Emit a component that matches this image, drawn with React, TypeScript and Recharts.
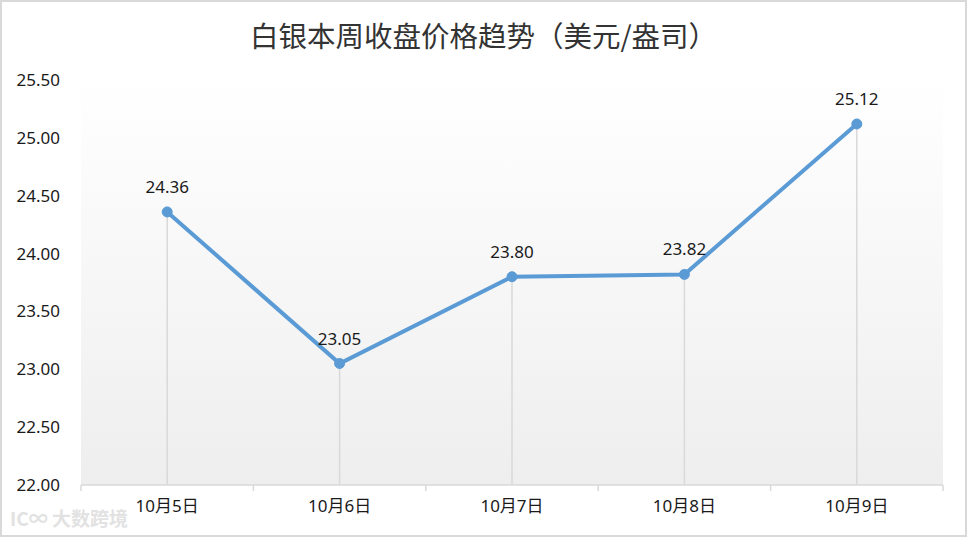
import React from "react"
import {
  CartesianGrid,
  LabelList,
  Line,
  LineChart,
  ReferenceLine,
  XAxis,
  YAxis,
} from "recharts"

const days = ["10月5日", "10月6日", "10月7日", "10月8日", "10月9日"]
const prices = [24.36, 23.05, 23.8, 23.82, 25.12]
const yTicks = [22, 22.5, 23, 23.5, 24, 24.5, 25, 25.5]

const data = days.map((day, i) => ({ day, price: prices[i] }))

const font = '"Noto Sans", "Noto Sans CJK SC", sans-serif'
const labelGap = 15

// category label plus tick marks at the band edges, like Excel
function DayTick(props: any) {
  const { x, y, payload, index, width } = props
  const half = width ? width / days.length / 2 : 0
  const axisY = y - labelGap
  return (
    <g>
      {half > 0 && (
        <line x1={x - half} x2={x - half} y1={axisY} y2={axisY + 6} stroke="#d9d9d9" strokeWidth={1.5} />
      )}
      {half > 0 && index === days.length - 1 && (
        <line x1={x + half} x2={x + half} y1={axisY} y2={axisY + 6} stroke="#d9d9d9" strokeWidth={1.5} />
      )}
      <text x={x} y={y} dy="0.71em" textAnchor="middle" fill="#1a1a1a" fontSize={17} fontFamily={font}>
        {payload.value}
      </text>
    </g>
  )
}

export default function App() {
  return (
    <div style={{ position: "absolute", left: 0, top: 0, width: 967, height: 537, background: "#fff", fontFamily: font }}>
      <LineChart
        width={967}
        height={537}
        data={data}
        margin={{ top: 80, right: 24, bottom: 0, left: 0 }}
      >
        <defs>
          <linearGradient id="plotBg" x1="0" y1="0" x2="0" y2="1">
            <stop offset="0%" stopColor="#ffffff" />
            <stop offset="100%" stopColor="#eeeeee" />
          </linearGradient>
        </defs>
        <CartesianGrid horizontal={false} vertical={false} fill="url(#plotBg)" />
        <XAxis
          dataKey="day"
          scale="band"
          height={52}
          axisLine={{ stroke: "#d9d9d9", strokeWidth: 1.5 }}
          tickLine={false}
          tickSize={0}
          tickMargin={labelGap}
          interval={0}
          tick={<DayTick />}
        />
        <YAxis
          domain={[22, 25.5]}
          ticks={yTicks}
          width={81}
          axisLine={false}
          tickLine={false}
          tickMargin={15}
          tickFormatter={(v: number) => v.toFixed(2)}
          tick={{ fill: "#1a1a1a", fontSize: 17, fontFamily: font }}
        />
        {data.map((d) => (
          <ReferenceLine
            key={d.day}
            segment={[
              { x: d.day, y: 22 },
              { x: d.day, y: d.price },
            ]}
            stroke="#d9d9d9"
            strokeWidth={1.5}
          />
        ))}
        <Line
          type="linear"
          dataKey="price"
          stroke="#5b9bd5"
          strokeWidth={4}
          dot={{ r: 5, fill: "#5b9bd5", stroke: "#5b9bd5", strokeWidth: 1 }}
          activeDot={false}
          isAnimationActive={false}
        >
          <LabelList
            dataKey="price"
            position="top"
            offset={19}
            formatter={(v: any) => Number(v).toFixed(2)}
            style={{ fill: "#1a1a1a", fontSize: 17, fontFamily: font }}
          />
        </Line>
      </LineChart>
      <div
        style={{
          position: "absolute",
          left: 0,
          top: 14,
          width: 967,
          textAlign: "center",
          fontSize: 28.5,
          color: "#333",
          fontFamily: '"Noto Sans CJK SC", sans-serif',
        }}
      >
        白银本周收盘价格趋势（美元/盎司）
      </div>
      <div
        style={{
          position: "absolute",
          left: 10,
          top: 504,
          fontSize: 19,
          fontWeight: 700,
          color: "#e2e2e2",
          fontFamily: '"Noto Sans CJK SC", sans-serif',
        }}
      >
        IC∞ 大数跨境
      </div>
      <div
        style={{
          position: "absolute",
          left: 0,
          top: 0,
          width: 967,
          height: 537,
          boxSizing: "border-box",
          border: "2px solid #d9d9d9",
          pointerEvents: "none",
        }}
      />
    </div>
  )
}
